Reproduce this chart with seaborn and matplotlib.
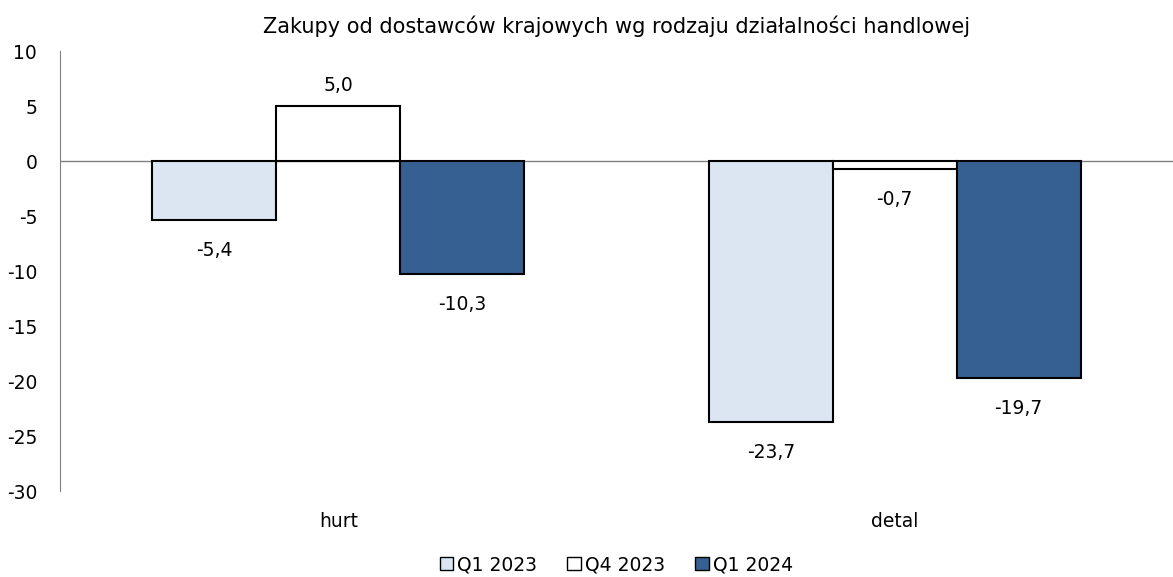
import pandas as pd
import seaborn as sns
import matplotlib.pyplot as plt

# dane z wykresu
kategorie = ["hurt", "detal"]
okresy = ["Q1 2023", "Q4 2023", "Q1 2024"]
q1_2023 = [-5.4, -23.7]
q4_2023 = [5.0, -0.7]
q1_2024 = [-10.3, -19.7]

kolory = ["#DCE6F2", "#FFFFFF", "#376092"]

df = pd.DataFrame({
    "kategoria": kategorie * 3,
    "okres": [o for o in okresy for _ in kategorie],
    "wartosc": q1_2023 + q4_2023 + q1_2024,
})

sns.set_style("white")
plt.rcParams["font.family"] = ["DejaVu Sans"]
plt.rcParams["axes.unicode_minus"] = False
plt.rcParams["text.color"] = "black"
plt.rcParams["xtick.color"] = "black"
plt.rcParams["ytick.color"] = "black"

fig = plt.figure(figsize=(11.73, 5.77), dpi=100)
ax = fig.add_axes([0.0512, 0.1490, 0.9488, 0.7626])

sns.barplot(data=df, x="kategoria", y="wartosc", hue="okres", order=kategorie,
            hue_order=okresy, palette=kolory, saturation=1, width=0.668, gap=0,
            edgecolor="black", linewidth=1.5, ax=ax, legend=True)

# etykiety wartości: nad dodatnimi, pod ujemnymi
for cont in ax.containers:
    for p, v in zip(cont.patches, cont.datavalues):
        x = p.get_x() + p.get_width() / 2
        tekst = f"{v:.1f}".replace(".", ",")
        if v >= 0:
            ax.annotate(tekst, (x, v), xytext=(0, 8), textcoords="offset points",
                        ha="center", va="bottom", fontsize=13.5, color="black")
        else:
            ax.annotate(tekst, (x, v), xytext=(0, -15), textcoords="offset points",
                        ha="center", va="top", fontsize=13.5, color="black")

ax.axhline(0, color="#808080", linewidth=1, zorder=0)
ax.set_ylim(-30, 10)
ax.set_yticks(range(-30, 11, 5))
ax.set_xlim(-0.5, 1.5)
ax.set_xlabel("")
ax.set_ylabel("")
ax.tick_params(axis="both", length=0, labelsize=13.5, labelcolor="black")
ax.tick_params(axis="y", pad=16.5)
ax.tick_params(axis="x", pad=15)
for s in ["top", "right", "bottom"]:
    ax.spines[s].set_visible(False)
ax.spines["left"].set_color("#808080")

ax.set_title("Zakupy od dostawców krajowych wg rodzaju działalności handlowej",
             fontsize=15, pad=13, color="black")

h, l = ax.get_legend_handles_labels()
for hh in h:
    hh.set_linewidth(1)
ax.legend(h, l, loc="center", bbox_to_anchor=(0.5, -0.168), ncol=3,
          frameon=False, fontsize=13.5, handlelength=0.7, handleheight=0.7,
          handletextpad=0.25, columnspacing=1.6, labelcolor="black")

fig.savefig("out.png", dpi=100)
